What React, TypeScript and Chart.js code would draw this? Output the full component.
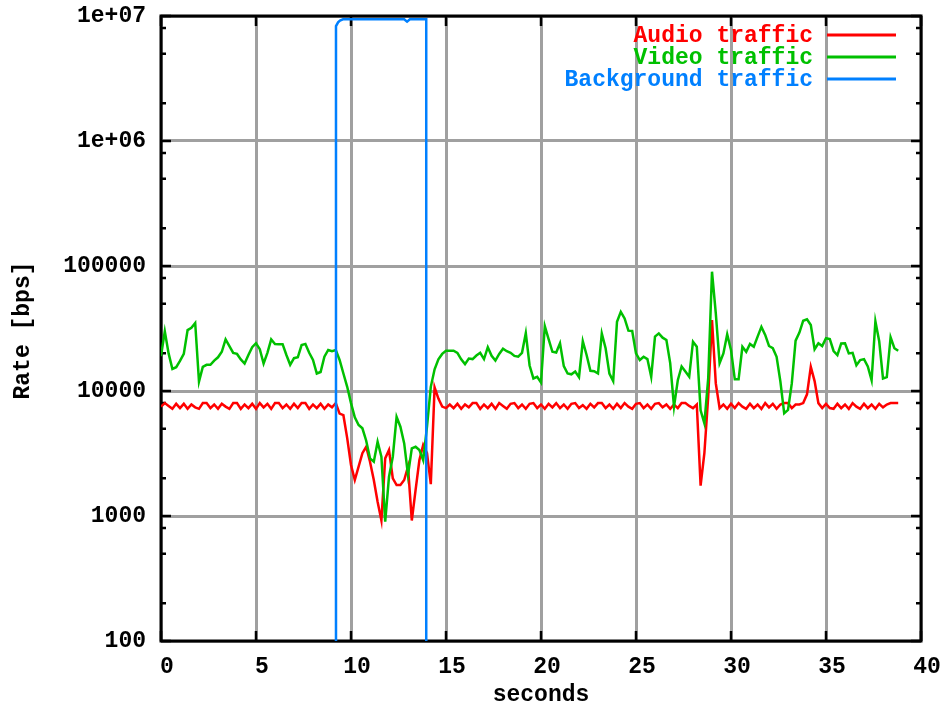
import { useEffect, useRef } from 'react';
import { Chart, registerables } from 'chart.js';

Chart.register(...registerables);

// Sampling interval of the audio / video measurements (seconds)
const SAMPLE_INTERVAL = 0.2;

const audioRate = [
  7500, 8000, 7600, 7200, 7900, 7300, 7900, 7200, 7800, 7400,
  7200, 8000, 8000, 7300, 7800, 7200, 7900, 7500, 7200, 8000,
  8000, 7200, 7800, 7300, 7900, 7200, 8000, 7400, 7900, 7200,
  8000, 8000, 7300, 7800, 7200, 7900, 7300, 8000, 8000, 7200,
  7800, 7300, 7900, 7200, 7800, 7400, 8000, 6600, 6400, 4200,
  2560, 1940, 2480, 3180, 3580, 2720, 1940, 1300, 920, 2890,
  3370, 2000, 1770, 1770, 1940, 2480, 920, 1620, 2800, 3700,
  3180, 1800, 10700, 8700, 7500, 7300, 7800, 7300, 7900, 7200,
  7800, 7400, 8000, 8000, 7200, 7800, 7300, 7900, 7200, 8000,
  7600, 7200, 7900, 8000, 7300, 7800, 7200, 7900, 8000, 7300,
  7800, 7200, 7900, 7400, 8000, 7300, 7800, 7200, 7900, 8000,
  7300, 7700, 7200, 7900, 7400, 8000, 8000, 7300, 7800, 7200,
  7900, 7300, 8000, 7500, 7200, 7900, 8000, 7300, 7800, 7200,
  7900, 8000, 7400, 7800, 7200, 7800, 7300, 8000, 8000, 7600,
  7300, 7800, 1750, 3200, 9000, 37000, 11500, 7300, 7800, 7200,
  7900, 7300, 8000, 7500, 7200, 7900, 7300, 7800, 7200, 8000,
  7400, 7900, 7200, 7800, 8000, 8000, 7300, 7800, 7800, 8000,
  9400, 15600, 12000, 8000, 7300, 7900, 7300, 7200, 7900, 7300,
  7800, 7200, 8000, 7500, 7200, 7900, 7300, 7800, 7200, 7900,
  7400, 7800, 8000, 8000, 8000,
];

const videoRate = [
  19000, 30000, 20000, 15000, 15500, 17400, 19800, 30700, 32000, 35000,
  11900, 15600, 16200, 16200, 17500, 18600, 20600, 25900, 22900, 20200,
  19800, 17900, 16600, 19400, 22400, 24100, 21600, 16600, 20200, 25900,
  23800, 23700, 23700, 19400, 16200, 18300, 18600, 23300, 23800, 20200,
  17700, 13800, 14200, 18800, 21300, 20800, 21300, 17700, 13800, 10800,
  8000, 6160, 5350, 5030, 4000, 2890, 2720, 3930, 2980, 900,
  2060, 2980, 6200, 5180, 3810, 2130, 3480, 3580, 3370, 2800,
  5180, 10800, 14900, 17900, 19800, 21000, 21000, 21000, 20200, 17900,
  16400, 18200, 18000, 19200, 20200, 18000, 22400, 19100, 17500, 19800,
  21800, 20800, 20200, 19100, 18800, 20200, 29000, 16000, 12600, 13000,
  11700, 33000, 26000, 20600, 20300, 24100, 15800, 13800, 13600, 14300,
  12900, 25000, 19400, 14500, 14400, 13800, 28900, 22000, 13800, 12000,
  35800, 43000, 38100, 30400, 30200, 20000, 17700, 18800, 18000, 13000,
  27200, 28900, 26700, 25600, 16700, 7500, 12200, 15700, 14300, 13000,
  24800, 22600, 7000, 5500, 12600, 90000, 41800, 16700, 20000, 28400,
  21300, 12400, 12400, 22600, 20600, 23800, 22600, 27200, 32600, 28100,
  22900, 22000, 18800, 11900, 6630, 7050, 11500, 25300, 29300, 36500,
  37500, 33700, 21600, 24100, 22900, 26400, 26000, 20900, 19400, 24000,
  24100, 20000, 20200, 16100, 17700, 18000, 15700, 12200, 36000, 25000,
  12600, 12900, 26900, 22000, 21000,
];

// Background traffic (1 bps = effectively off, below the plotted range)
const bgTime = [0, 9.21, 9.21, 9.32, 9.42, 9.58, 12.8, 12.95, 13.1, 13.96, 13.96, 38.8];
const bgRate = [1, 1, 8300000, 8900000, 9200000, 9400000, 9400000, 9000000, 9400000, 9400000, 1, 1];

const seriesLabels = ['Audio traffic', 'Video traffic', 'Background traffic'];
const seriesColors = ['#ff0000', '#00c000', '#0080ff'];

const xTicks = [0, 5, 10, 15, 20, 25, 30, 35, 40];
const yTicks = [100, 1000, 10000, 100000, 1000000, 10000000];
const yTickLabels = ['100', '1000', '10000', '100000', '1e+06', '1e+07'];
const yMinorFactors = [2, 5, 8];

const xTitle = 'seconds';
const yTitle = 'Rate [bps]';

const FONT = "'Liberation Mono', 'DejaVu Sans Mono', monospace";

const framePlugin = {
  id: 'gnuframe',
  beforeDatasetsDraw(chart: any) {
    const { ctx, chartArea: a, scales } = chart;
    const xs = scales.x;
    const ys = scales.y;
    ctx.save();
    ctx.strokeStyle = '#000';
    ctx.lineWidth = 2.5;
    ctx.beginPath();
    for (const v of xTicks) {
      const px = xs.getPixelForValue(v);
      ctx.moveTo(px, a.bottom);
      ctx.lineTo(px, a.bottom - 10);
      ctx.moveTo(px, a.top);
      ctx.lineTo(px, a.top + 10);
    }
    for (const v of yTicks) {
      const py = ys.getPixelForValue(v);
      ctx.moveTo(a.left, py);
      ctx.lineTo(a.left + 10, py);
      ctx.moveTo(a.right, py);
      ctx.lineTo(a.right - 10, py);
      for (const f of yMinorFactors) {
        const mv = v * f;
        if (mv > yTicks[yTicks.length - 1]) continue;
        const mp = ys.getPixelForValue(mv);
        ctx.moveTo(a.left, mp);
        ctx.lineTo(a.left + 5, mp);
        ctx.moveTo(a.right, mp);
        ctx.lineTo(a.right - 5, mp);
      }
    }
    ctx.stroke();
    ctx.lineWidth = 3;
    ctx.strokeRect(a.left, a.top, a.right - a.left, a.bottom - a.top);
    ctx.restore();
  },
  afterDraw(chart: any) {
    const { ctx, chartArea: a } = chart;
    ctx.save();
    ctx.font = `bold 23px ${FONT}`;
    // legend
    ctx.textBaseline = 'middle';
    ctx.textAlign = 'right';
    seriesLabels.forEach((label, i) => {
      const yy = 36 + i * 22;
      ctx.fillStyle = seriesColors[i];
      ctx.fillText(label, 813, yy);
      ctx.strokeStyle = seriesColors[i];
      ctx.lineWidth = 3;
      ctx.beginPath();
      ctx.moveTo(827, yy - 1);
      ctx.lineTo(896, yy - 1);
      ctx.stroke();
    });
    // axis titles
    ctx.fillStyle = '#000';
    ctx.textAlign = 'center';
    ctx.fillText(xTitle, (a.left + a.right) / 2, 695);
    ctx.translate(23, (a.top + a.bottom) / 2 + 2);
    ctx.rotate(-Math.PI / 2);
    ctx.fillText(yTitle, 0, 0);
    ctx.restore();
  },
};

export default function App() {
  const canvasRef = useRef<HTMLCanvasElement | null>(null);

  useEffect(() => {
    document.body.style.margin = '0';
    const canvas = canvasRef.current;
    if (!canvas) return;
    const toPoints = (vals: number[]) =>
      vals.map((v, i) => ({ x: Math.round(i * SAMPLE_INTERVAL * 1000) / 1000, y: v }));
    const chart = new Chart(canvas, {
      type: 'line',
      data: {
        datasets: [
          {
            label: seriesLabels[0],
            data: toPoints(audioRate),
            borderColor: seriesColors[0],
            borderWidth: 2.5,
            pointRadius: 0,
            tension: 0,
            fill: false,
            order: 3,
          },
          {
            label: seriesLabels[1],
            data: toPoints(videoRate),
            borderColor: seriesColors[1],
            borderWidth: 2.5,
            pointRadius: 0,
            tension: 0,
            fill: false,
            order: 2,
          },
          {
            label: seriesLabels[2],
            data: bgTime.map((t, i) => ({ x: t, y: bgRate[i] })),
            borderColor: seriesColors[2],
            borderWidth: 2.5,
            pointRadius: 0,
            tension: 0,
            fill: false,
            order: 1,
          },
        ],
      },
      options: {
        animation: false,
        responsive: false,
        maintainAspectRatio: false,
        layout: { padding: { left: 0, right: 21, top: 16, bottom: 0 } },
        plugins: {
          legend: { display: false },
          tooltip: { enabled: false },
        },
        scales: {
          x: {
            type: 'linear',
            min: 0,
            max: 40,
            afterBuildTicks: (s: any) => {
              s.ticks = xTicks.map((v) => ({ value: v }));
            },
            afterFit: (s: any) => {
              s.height = 66;
              s.paddingLeft = 0;
              s.paddingRight = 0;
            },
            grid: { color: '#a0a0a0', lineWidth: 3, drawTicks: false },
            border: { display: false },
            ticks: {
              autoSkip: false,
              maxRotation: 0,
              padding: 12,
              labelOffset: 6,
              color: '#000',
              font: { family: FONT, size: 23, weight: 'bold' },
              callback: (v: any) => String(v),
            },
          },
          y: {
            type: 'logarithmic',
            min: 100,
            max: 10000000,
            afterBuildTicks: (s: any) => {
              s.ticks = yTicks.map((v) => ({ value: v }));
            },
            afterFit: (s: any) => {
              s.width = 161;
              s.paddingTop = 0;
              s.paddingBottom = 0;
            },
            grid: { color: '#a0a0a0', lineWidth: 3, drawTicks: false },
            border: { display: false },
            ticks: {
              autoSkip: false,
              padding: 15,
              color: '#000',
              font: { family: FONT, size: 23, weight: 'bold' },
              callback: (_v: any, i: number) => yTickLabels[i],
            },
          },
        },
      },
      plugins: [framePlugin],
    } as any);
    return () => chart.destroy();
  }, []);

  return (
    <div style={{ width: 942, height: 707 }}>
      <canvas ref={canvasRef} width={942} height={707} />
    </div>
  );
}
